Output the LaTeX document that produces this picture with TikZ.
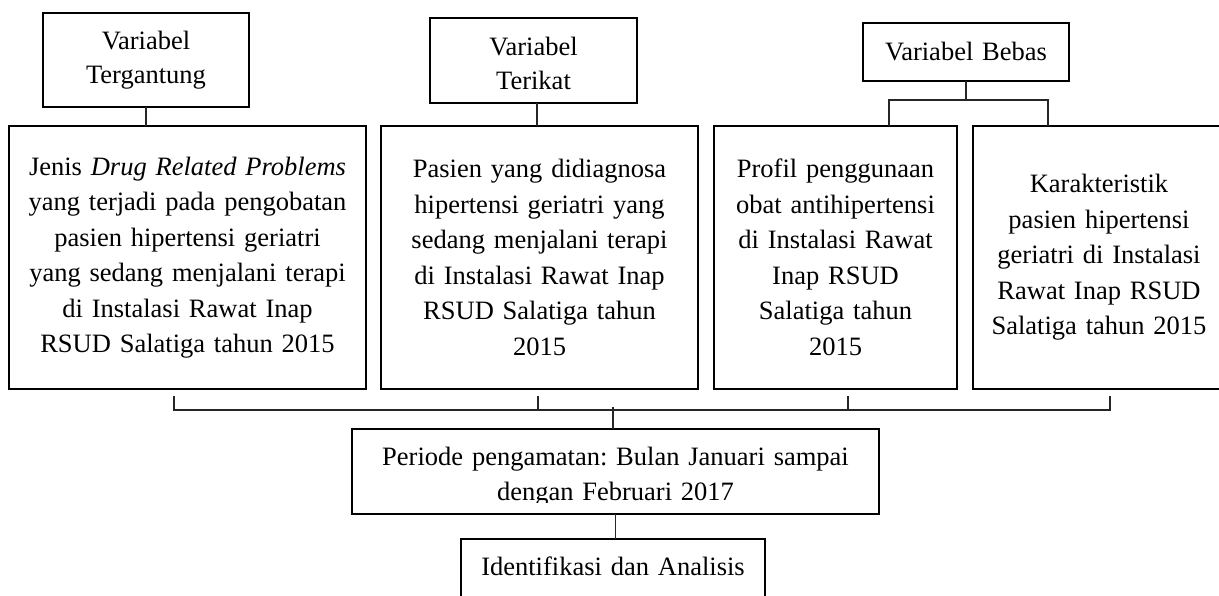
\documentclass[tikz,border=0pt]{standalone}
\usepackage{fontspec}
\setmainfont{Liberation Serif}
\frenchspacing
\begin{document}
\begin{tikzpicture}[x=1pt,y=-1pt,
  frame/.style={draw=black, line width=2.2pt},
  box/.style={frame, rectangle, align=center, inner xsep=3pt, inner ysep=2pt,
    outer sep=0pt, font=\fontsize{26.5}{35.5}\selectfont},
  head/.style={box, font=\fontsize{26.5}{34}\selectfont},
  link/.style={draw=black!85, line width=1.1pt}]
\useasboundingbox (0,0) rectangle (1219,596);

% variable headings
\node[head, minimum width=206pt, minimum height=94pt, text width=200pt] (tA) at (146,60)
  {Variabel\\ Tergantung};
\node[head, minimum width=207pt, minimum height=85pt, text width=201pt,
  text height=18pt, text depth=27pt] (tB) at (533.5,60.5)
  {Variabel\\ Terikat};
\node[head, minimum width=206pt, minimum height=58pt, text width=200pt] (tC) at (966,52)
  {Variabel Bebas};

% variable descriptions
\node[box, minimum width=357pt, minimum height=263pt, text width=351pt] (b1) at (187.5,257.5)
  {Jenis \textit{Drug Related Problems}\\ yang terjadi pada pengobatan\\ pasien hipertensi geriatri\\
   yang sedang menjalani terapi\\ di Instalasi Rawat Inap\\ RSUD Salatiga tahun 2015};
\node[box, minimum width=317pt, minimum height=263pt, text width=311pt] (b2) at (539.5,257.5)
  {Pasien yang didiagnosa\\ hipertensi geriatri yang\\ sedang menjalani terapi\\
   di Instalasi Rawat Inap\\ RSUD Salatiga tahun\\ 2015};
\node[box, minimum width=243pt, minimum height=263pt, text width=237pt] (b3) at (835.5,257.5)
  {Profil penggunaan\\ obat antihipertensi\\ di Instalasi Rawat\\ Inap RSUD\\ Salatiga tahun\\ 2015};
\node[box, minimum width=252pt, minimum height=263pt, text width=246pt] (b4) at (1099,257.5)
  {Karakteristik\\ pasien hipertensi\\ geriatri di Instalasi\\ Rawat Inap RSUD\\ Salatiga tahun 2015};

% observation period (text clipped at the bottom)
\begin{scope}
  \clip (0,0) rectangle (1219,502.5);
  \node[box, draw=none, minimum width=527pt, minimum height=85pt, text width=521pt,
    text height=18pt, text depth=31pt] (per) at (615.5,471.5)
    {Periode pengamatan: Bulan Januari sampai\\ dengan Februari 2017};
\end{scope}
\draw[frame] (per.north west) rectangle (per.south east);

% analysis
\node[box, anchor=north, minimum width=304pt, text width=298pt, inner ysep=18pt,
  text height=18pt, text depth=40pt] (idn) at (613,539) {Identifikasi dan Analisis};

% heading connectors
\draw[link] (tA.south) -- (tA.south |- b1.north);
\draw[link] (tB.south -| 537,0) -- (537,0 |- b2.north);
\coordinate (jC) at (966,100);
\coordinate (cL) at (889,100);
\coordinate (cR) at (1048,100);
\draw[link] (tC.south) -- (jC);
\draw[link] (cL |- b3.north) -- (cL) -- (cR) -- (cR |- b4.north);

% bracket joining the descriptions
\coordinate (top) at (0,396);
\coordinate (k1) at (174,410);
\coordinate (k2) at (538,410);
\coordinate (k3) at (848,410);
\coordinate (k4) at (1110,410);
\coordinate (k0) at (613,407);
\draw[link] (k1 |- top) -- (k1) -- (k4) -- (k4 |- top);
\draw[link] (k2 |- top) -- (k2);
\draw[link] (k3 |- top) -- (k3);
\draw[link] (k0) -- (k0 |- per.north);

% period to analysis
\draw[link] (per.south) -- (per.south |- idn.north);
\end{tikzpicture}
\end{document}
